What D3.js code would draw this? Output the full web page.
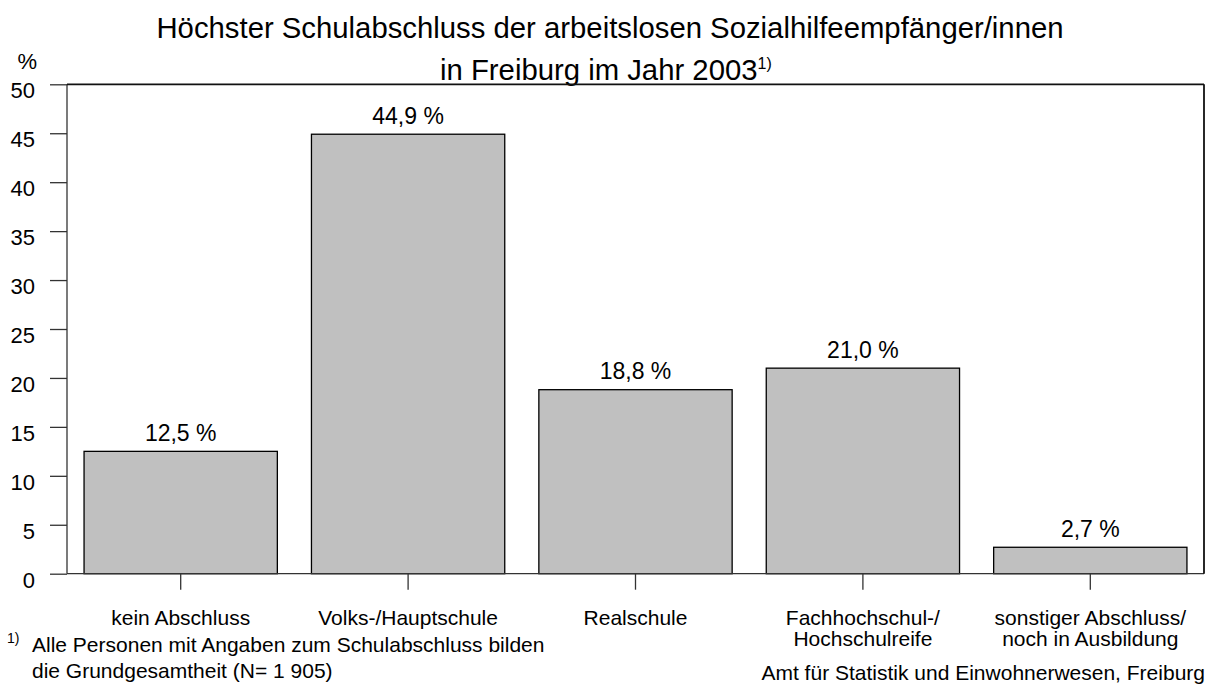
<!DOCTYPE html>
<html>
<head>
<meta charset="utf-8">
<script src="https://cdn.jsdelivr.net/npm/d3@7"></script>
<style>
  html, body { margin: 0; padding: 0; background: #fff; }
  svg text { font-family: "Liberation Sans", Arial, Helvetica, sans-serif; fill: #000; }
</style>
</head>
<body>
<svg id="chart" width="1210" height="684"></svg>
<script>
// Kategorien (Zeilenumbrüche mit "\n")
const categories = [
  "kein Abschluss",
  "Volks-/Hauptschule",
  "Realschule",
  "Fachhochschul-/\nHochschulreife",
  "sonstiger Abschluss/\nnoch in Ausbildung"
];
// Anteile in Prozent
const values = [12.5, 44.9, 18.8, 21.0, 2.7];
// Beschriftung der y-Achse
const yTicks = [0, 5, 10, 15, 20, 25, 30, 35, 40, 45, 50];

const svg = d3.select("#chart");

const plotLeft = 67, plotRight = 1204, plotTop = 84.3, plotBottom = 573.7;

const x = d3.scaleBand()
  .domain(categories)
  .range([plotLeft, plotRight])
  .paddingInner(0.15)
  .paddingOuter(0.075);

const y = d3.scaleLinear().domain([0, 50]).range([plotBottom, plotTop]);

const fmt = v => d3.format(".1f")(v).replace(".", ",") + " %";

// Titel
svg.append("text")
  .attr("x", 610).attr("y", 37.5)
  .attr("text-anchor", "middle")
  .style("font-size", "29.3px")
  .text("Höchster Schulabschluss der arbeitslosen Sozialhilfeempfänger/innen");

const t2 = svg.append("text")
  .attr("x", 440).attr("y", 79.5)
  .attr("text-anchor", "start")
  .style("font-size", "29.3px");
t2.append("tspan").text("in Freiburg im Jahr 2003");
t2.append("tspan").attr("dy", -11).style("font-size", "16px").text("1)");

// Einheit
svg.append("text")
  .attr("x", 37).attr("y", 69)
  .attr("text-anchor", "end")
  .style("font-size", "22px")
  .text("%");

// Säulen
svg.append("g").selectAll("rect")
  .data(values)
  .join("rect")
  .attr("x", (d, i) => x(categories[i]))
  .attr("y", d => y(d))
  .attr("width", x.bandwidth())
  .attr("height", d => y(0) - y(d))
  .attr("fill", "#c0c0c0")
  .attr("stroke", "#000")
  .attr("stroke-width", 1.3);

// Werte über den Säulen
svg.append("g").selectAll("text")
  .data(values)
  .join("text")
  .attr("x", (d, i) => x(categories[i]) + x.bandwidth() / 2)
  .attr("y", d => y(d) - 10.5)
  .attr("text-anchor", "middle")
  .style("font-size", "23px")
  .text(d => fmt(d));

// y-Achse
const yAxis = svg.append("g")
  .attr("transform", `translate(${plotLeft},0)`)
  .call(d3.axisLeft(y).tickValues(yTicks).tickSize(17).tickPadding(15).tickFormat(d3.format("d")));
yAxis.select(".domain").remove();
yAxis.selectAll(".tick line").attr("stroke", "#333").attr("stroke-width", 1.3);
yAxis.selectAll(".tick text")
  .attr("dy", "13.5px")
  .style("font-size", "22px")
  .style("font-family", "'Liberation Sans', Arial, sans-serif");

// Rahmen
svg.append("line").attr("x1", plotLeft).attr("x2", plotLeft).attr("y1", plotTop).attr("y2", plotBottom)
  .attr("stroke", "#333").attr("stroke-width", 1.3);
svg.append("line").attr("x1", plotLeft).attr("x2", plotRight).attr("y1", plotBottom).attr("y2", plotBottom)
  .attr("stroke", "#333").attr("stroke-width", 1.3);
svg.append("line").attr("x1", plotLeft).attr("x2", plotRight).attr("y1", plotTop).attr("y2", plotTop)
  .attr("stroke", "#111").attr("stroke-width", 1.8);
svg.append("line").attr("x1", plotRight).attr("x2", plotRight).attr("y1", plotTop).attr("y2", plotBottom)
  .attr("stroke", "#111").attr("stroke-width", 1.8);

// x-Achse
const xAxis = svg.append("g")
  .attr("transform", `translate(0,${plotBottom})`)
  .call(d3.axisBottom(x).tickSize(16).tickFormat(""));
xAxis.select(".domain").remove();
xAxis.selectAll(".tick line").attr("stroke", "#333").attr("stroke-width", 1.3);

const catLabels = svg.append("g").selectAll("text")
  .data(categories)
  .join("text")
  .attr("x", d => x(d) + x.bandwidth() / 2)
  .attr("y", 624.5)
  .attr("text-anchor", "middle")
  .style("font-size", "21px");
catLabels.selectAll("tspan")
  .data(d => d.split("\n"))
  .join("tspan")
  .attr("x", function () { return this.parentNode.getAttribute("x"); })
  .attr("dy", (d, i) => i === 0 ? 0 : 21)
  .text(d => d);

// Fußnote
svg.append("text")
  .attr("x", 7).attr("y", 643)
  .style("font-size", "14px")
  .text("1)");
svg.append("text")
  .attr("x", 32).attr("y", 652)
  .style("font-size", "21px")
  .text("Alle Personen mit Angaben zum Schulabschluss bilden");
svg.append("text")
  .attr("x", 32).attr("y", 677.5)
  .style("font-size", "21px")
  .text("die Grundgesamtheit (N= 1 905)");

// Quelle
svg.append("text")
  .attr("x", 1205).attr("y", 680)
  .attr("text-anchor", "end")
  .style("font-size", "21px")
  .text("Amt für Statistik und Einwohnerwesen, Freiburg");
</script>
</body>
</html>
